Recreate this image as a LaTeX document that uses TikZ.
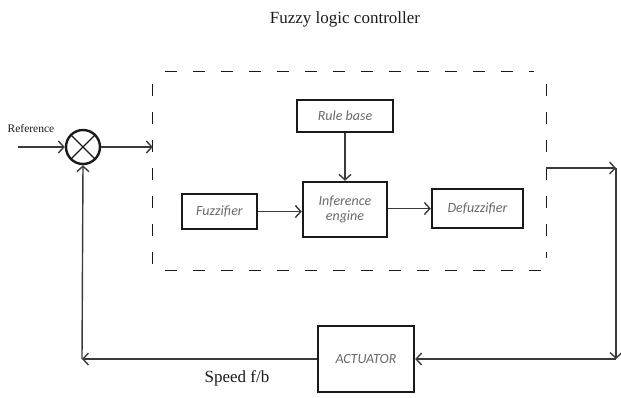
\documentclass[tikz,border=0pt]{standalone}
\usepackage{fontspec}
\setmainfont{Liberation Serif}
\newfontfamily\blockfont{Carlito}
\usepackage{xcolor}
\usepackage{tikz}
\usetikzlibrary{positioning,arrows.meta,calc}
\definecolor{ink}{HTML}{1A1A1A}
\definecolor{wire}{HTML}{3A3A3A}
\definecolor{label}{HTML}{6A6A6A}
\tikzset{
  blockbox/.style={draw=ink, line width=2.4pt, fill=white, align=center,
    font=\blockfont\itshape\fontsize{14}{15}\selectfont, text=label, inner sep=2pt},
  flcline/.style={draw=ink, line width=1.3pt, dash pattern=on 12pt off 16pt},
  sumnode/.style={draw=ink, circle, line width=2.4pt, minimum size=34pt, inner sep=0pt},
  wireline/.style={draw=wire, line width=1.4pt, -{Straight Barb[length=5.5pt,width=12pt,line width=1.4pt]}},
  plain/.style={font=\fontsize{17}{19}\selectfont, text=ink}
}
\begin{document}
\begin{tikzpicture}[x=1pt,y=-1pt]
      \useasboundingbox (0,0) rectangle (621,397);
      \node[plain] (title) at (345,19) {Fuzzy logic controller};
      \node[minimum width=393pt, minimum height=198pt] (flc) at (349.5,171) {};
      \draw[flcline] ($(flc.north west)+(12,0)$) -- ($(flc.north east)+(-12,0)$);
      \draw[flcline] ($(flc.south west)+(12,0)$) -- ($(flc.south east)+(-4,0)$);
      \draw[flcline] ($(flc.north west)+(0,12)$) -- ($(flc.south west)+(0,-6)$);
      \draw[flcline] ($(flc.north east)+(0,12)$) -- ($(flc.south east)+(0,-12)$);
      \node[sumnode] (sum) at (83,147) {};
      \draw[ink, line width=1.4pt] (sum.north west) -- (sum.south east)
                                   (sum.north east) -- (sum.south west);
      \node[font=\fontsize{11.5}{13}\selectfont, text=ink] (ref) at (31,128.5) {Reference};
      \coordinate (refin) at (18,147);
      \node[blockbox, minimum width=96pt, minimum height=32pt] (rule) at (345,116) {Rule base};
      \node[blockbox, minimum width=84pt, minimum height=55pt] (inf) at (345,209.5) {Inference\\engine};
      \node[blockbox, minimum width=75pt, minimum height=35pt] (fuzz) at (219.5,211.5) {Fuzzifier};
      \node[blockbox, minimum width=91pt, minimum height=39pt] (defuzz) at (477.5,208.5) {Defuzzifier};
      \node[blockbox, minimum width=96pt, minimum height=66pt] (act) at (366,359) {ACTUATOR};
      \node[plain] (speed) at (237,378) {Speed f/b};
      \coordinate (outa) at (616,168);
      \coordinate (outb) at (616,359);
      \coordinate (fb) at (82,359);
      \draw[wireline] (refin) -- (sum.west);
      \draw[wireline] (sum.east) -- (flc.west |- sum.east);
      \draw[wireline] (rule.south) -- (inf.north);
      \draw[wireline] (fuzz.east) -- (inf.west |- fuzz.east);
      \draw[wireline] (inf.east |- defuzz.west) -- (defuzz.west);
      \draw[wireline] (flc.east |- outa) -- (outa);
      \draw[wireline] (outa) -- (outb);
      \draw[wireline] (outb) -- (act.east);
      \draw[wireline] (act.west) -- (fb);
      \draw[wireline] (fb) -- (sum.south);
    \end{tikzpicture}
\end{document}
